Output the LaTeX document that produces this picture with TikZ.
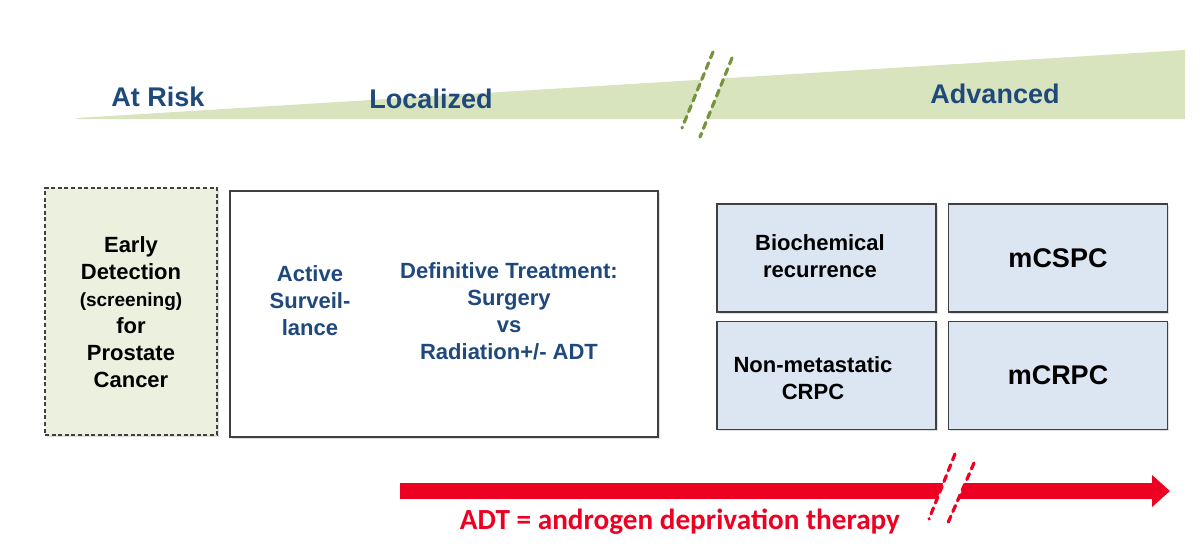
\documentclass[tikz,border=0pt]{standalone}
\usepackage{fontspec}
\setmainfont{Liberation Sans}
\newfontfamily\calib{Carlito}
\usetikzlibrary{positioning, arrows.meta, shadows}
\definecolor{stageblue}{HTML}{1F497D}
\definecolor{wedgegreen}{HTML}{D7E4BD}
\definecolor{riskgreen}{HTML}{EBF1DE}
\definecolor{breakgreen}{HTML}{77933C}
\definecolor{boxblue}{HTML}{DCE6F2}
\definecolor{adtred}{HTML}{EE0022}
\definecolor{edgegray}{HTML}{404040}

\begin{document}
\begin{tikzpicture}[x=0.5pt, y=-0.5pt,
      stage/.style={font=\bfseries\fontsize{13.5}{16}\selectfont, text=stageblue},
      box/.style={draw=edgegray, line width=0.75pt,
        drop shadow={shadow xshift=0.8pt, shadow yshift=-0.8pt, opacity=0.25}},
      boxtxt/.style={align=center, font=\bfseries\fontsize{11}{13.5}\selectfont},
      cell/.style={box, fill=boxblue, minimum width=109.5pt, minimum height=54pt,
        inner sep=0pt, align=center},
      brk/.style={line width=1.6pt, line cap=round, dash pattern=on 3.2pt off 2.6pt}
    ]
    \useasboundingbox (0,0) rectangle (1200,554);
    % stage wedge
    \fill[wedgegreen] (77,118) -- (1185,50) -- (1185,119) -- (77,119) -- cycle;
    \fill[white] (713,50) -- (732,56) -- (700,139) -- (682,130) -- cycle;
    \draw[brk, breakgreen] (713,52) -- (682,128);
    \draw[brk, breakgreen] (732,58) -- (700,137);
    \node[stage] (risk) at (158,97) {At Risk};
    \node[stage] (local) at (431,99) {Localized};
    \node[stage] (adv) at (995,94) {Advanced};

    % boxes
    \node[box, fill=riskgreen, dash pattern=on 2pt off 1.3pt,
      minimum width=86pt, minimum height=123.5pt] (early) at (131,311.5) {};
    \node[boxtxt] (earlytxt) at (131,312)
      {Early\\Detection\\{\fontsize{9.5}{13.5}\selectfont(screening)}\\for\\Prostate\\Cancer};
    \node[box, fill=white, minimum width=214pt, minimum height=123pt] (localbox) at (444,314) {};
    \node[boxtxt, text=stageblue] (surv) at (310,301) {Active\\Surveil-\\lance};
    \node[boxtxt, text=stageblue] (defin) at (509,311)
      {Definitive Treatment:\\Surgery\\vs\\Radiation+/- ADT};

    \node[cell] (bcr) at (826.5,258) {};
    \node[cell, font=\bfseries\fontsize{13.5}{16}\selectfont] (mcspc) [right=5.5pt of bcr] {mCSPC};
    \node[cell] (nmcrpc) [below=4pt of bcr] {};
    \node[cell, font=\bfseries\fontsize{13.5}{16}\selectfont] (mcrpc) [right=5.5pt of nmcrpc] {mCRPC};
    \node[boxtxt] (bcrtxt) at (820,256) {Biochemical\\recurrence};
    \node[boxtxt] (nmtxt) at (813,378) {Non-metastatic\\CRPC};

    % ADT arrow
    \coordinate (adtstart) at (400,491);
    \coordinate (adtend) at (1170,491);
    \draw[adtred, line width=7.75pt, -{Triangle[length=9pt, width=15.5pt]}] (adtstart) -- (adtend);
    \fill[white] (955,452) -- (974,461) -- (947,527) -- (929,521) -- cycle;
    \draw[brk, adtred] (955,454) -- (929,519);
    \draw[brk, adtred] (974,463) -- (947,525);
    \node[font=\calib\bfseries\fontsize{14.6}{16}\selectfont, text=adtred] (adt) at (680,522)
      {ADT = androgen deprivation therapy};
\end{tikzpicture}
\end{document}
